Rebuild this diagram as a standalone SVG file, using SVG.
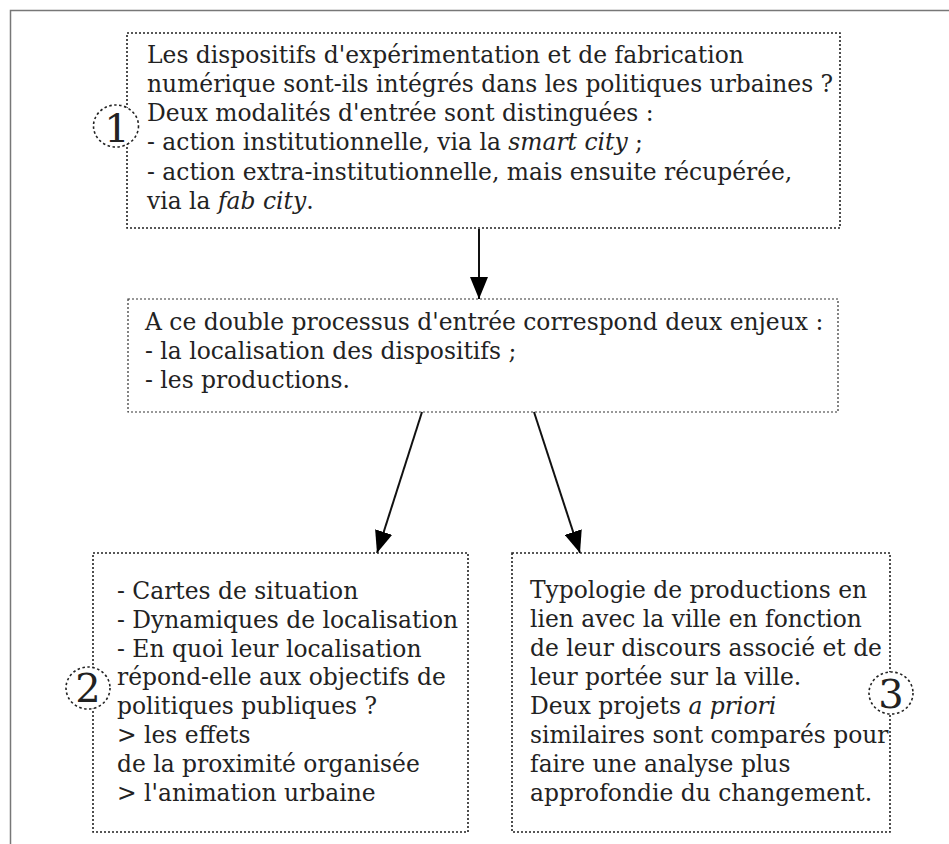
<svg xmlns="http://www.w3.org/2000/svg" width="949" height="844" viewBox="0 0 949 844">
<style>
.box{fill:none;stroke:#222;stroke-width:1.6;stroke-dasharray:2 2}
.box2{fill:none;stroke:#333;stroke-width:1.2;stroke-dasharray:2 2}
.circ{fill:#fff;stroke:#222;stroke-width:1.6;stroke-dasharray:2.5 2.5}
.t{font-family:"DejaVu Serif",serif;font-size:23.4px;fill:#222}
.n{font-family:"DejaVu Serif",serif;font-size:40px;fill:#222;text-anchor:middle}
.conn{stroke:#111;stroke-width:2;fill:none}
</style>
<defs>
<marker id="ah" markerWidth="22" markerHeight="18" refX="22" refY="9" orient="auto" markerUnits="userSpaceOnUse">
<path d="M0,0 L22,9 L0,18 Z" fill="#000"/>
</marker>
</defs>
<rect width="949" height="844" fill="#fff"/>
<path d="M10.5,844 V10.5 H949" fill="none" stroke="#777" stroke-width="1.5"/>
<g id="connectors">
<line class="conn" x1="479" y1="229" x2="479" y2="299" marker-end="url(#ah)"/>
<line class="conn" x1="422" y1="412" x2="377" y2="553" marker-end="url(#ah)"/>
<line class="conn" x1="534" y1="412" x2="580" y2="553" marker-end="url(#ah)"/>
</g>
<g id="node1">
<rect class="box" x="127" y="33" width="713" height="195"/>
<text class="t"><tspan x="147" y="63">Les dispositifs d'expérimentation et de fabrication</tspan><tspan x="147" y="92">numérique sont-ils intégrés dans les politiques urbaines ?</tspan><tspan x="147" y="121">Deux modalités d'entrée sont distinguées :</tspan><tspan x="147" y="150">- action institutionnelle, via la <tspan font-style="italic">smart city</tspan> ;</tspan><tspan x="147" y="180">- action extra-institutionnelle, mais ensuite récupérée,</tspan><tspan x="147" y="209">via la <tspan font-style="italic">fab city</tspan>.</tspan></text>
<ellipse class="circ" cx="116" cy="126" rx="22.5" ry="21"/>
<text class="n" x="117" y="142">1</text>
</g>
<g id="node2">
<rect class="box2" x="128" y="299" width="710" height="113"/>
<text class="t"><tspan x="145" y="330">A ce double processus d'entrée correspond deux enjeux :</tspan><tspan x="145" y="359">- la localisation des dispositifs ;</tspan><tspan x="145" y="388">- les productions.</tspan></text>
</g>
<g id="node3">
<rect class="box" x="93" y="553" width="375" height="279"/>
<text class="t"><tspan x="117" y="599">- Cartes de situation</tspan><tspan x="117" y="628">- Dynamiques de localisation</tspan><tspan x="117" y="657">- En quoi leur localisation</tspan><tspan x="117" y="685">répond-elle aux objectifs de</tspan><tspan x="117" y="714">politiques publiques ?</tspan><tspan x="117" y="743">&gt; les effets</tspan><tspan x="117" y="772">de la proximité organisée</tspan><tspan x="117" y="801">&gt; l'animation urbaine</tspan></text>
<ellipse class="circ" cx="88" cy="688" rx="22" ry="21"/>
<text class="n" x="88" y="702">2</text>
</g>
<g id="node4">
<rect class="box" x="512" y="553" width="378" height="279"/>
<text class="t"><tspan x="530" y="598">Typologie de productions en</tspan><tspan x="530" y="627">lien avec la ville en fonction</tspan><tspan x="530" y="656">de leur discours associé et de</tspan><tspan x="530" y="685">leur portée sur la ville.</tspan><tspan x="530" y="714">Deux projets <tspan font-style="italic">a priori</tspan></tspan><tspan x="530" y="743">similaires sont comparés pour</tspan><tspan x="530" y="772">faire une analyse plus</tspan><tspan x="530" y="801">approfondie du changement.</tspan></text>
<ellipse class="circ" cx="891" cy="693" rx="22" ry="21"/>
<text class="n" x="891" y="708">3</text>
</g>
</svg>
